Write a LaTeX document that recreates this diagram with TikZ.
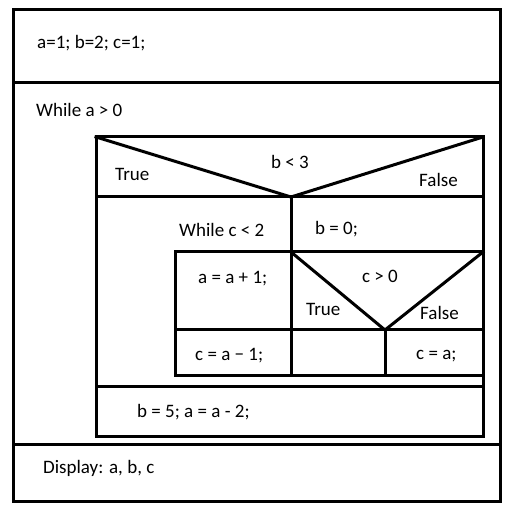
\documentclass[tikz,border=0pt]{standalone}
\usepackage{fontspec}
\setmainfont{Carlito}
\usetikzlibrary{positioning}
\tikzset{
  nsline/.style={line width=3pt, line cap=rect, line join=miter},
  nstext/.style={inner sep=0pt, anchor=west, font=\fontsize{19}{22}\selectfont},
}

\begin{document}
\begin{tikzpicture}[x=1pt,y=-1pt]
   \useasboundingbox (0,0) rectangle (515,513);

   % outer program box
   \draw[nsline] (13,10) rectangle (500,502);
   \draw[nsline] (13,83) -- (500,83);
   \draw[nsline] (13,445) -- (500,445);

   % if b < 3
   \draw[nsline] (96,137) rectangle (483,437);
   \draw[nsline] (96,197) -- (483,197);
   \draw[nsline] (96,137) -- (291,197) -- (483,137);
   \draw[nsline] (291,197) -- (291,376);
   \draw[nsline] (96,387) -- (483,387);

   % while c < 2 body and if c > 0
   \draw[nsline] (175,252) rectangle (291,376);
   \draw[nsline] (291,252) -- (483,252);
   \draw[nsline] (175,330) -- (483,330);
   \draw[nsline] (291,252) -- (385,330) -- (483,252);
   \draw[nsline] (385,330) -- (385,376);
   \draw[nsline] (291,376) -- (483,376);

   % texts
   \node[nstext] (init) at (37,43) {a=1; b=2; c=1;};
   \node[nstext] (loopa) at (36,110) {While a > 0};
   \node[nstext] (trueb) at (115,174) {True};
   \node[nstext, anchor=center] (condb) at (290,162) {b < 3};
   \node[nstext] (falseb) at (419,180) {False};
   \node[nstext] (loopc) at (179,230) {While c < 2};
   \node[nstext] (setb) at (315,229) {b = 0;};
   \node[nstext] (inca) at (198,279) {a = a + 1;};
   \node[nstext, anchor=center] (condc) at (380,276) {c > 0};
   \node[nstext] (truec) at (306,309) {True};
   \node[nstext] (falsec) at (420,313) {False};
   \node[nstext] (setc) at (195,356) {c = a − 1;};
   \node[nstext] (seta) at (416,356) {c = a;};
   \node[nstext] (reset) at (137,412) {b = 5; a = a - 2;};
   \node[nstext] (show) at (43,468) {Display: a, b, c};
\end{tikzpicture}
\end{document}
